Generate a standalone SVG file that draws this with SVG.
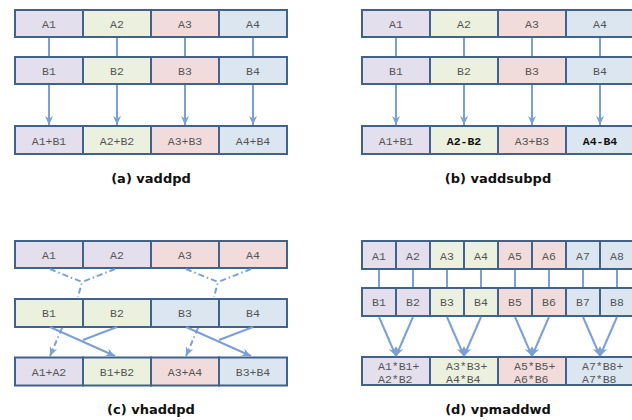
<svg xmlns="http://www.w3.org/2000/svg" width="632" height="420" viewBox="0 0 632 420">
<style>
.cell{stroke:#41628a;stroke-width:2}
.c1{fill:#e4dfec}.c2{fill:#ebf1de}.c3{fill:#f2dcdb}.c4{fill:#dce6f1}
.t{font-family:"Liberation Mono","Courier New",monospace;font-size:11.5px;fill:#555;text-anchor:middle}
.tb{font-weight:bold;fill:#111}
.tl{text-anchor:start}
.cap{font-family:"DejaVu Sans",sans-serif;font-weight:bold;font-size:13px;fill:#111;text-anchor:middle}
.ln{stroke:#7aa0d4;stroke-width:2;fill:none}
.dd{stroke-dasharray:6 3 1.5 3}
.ar{marker-end:url(#ah)}
</style>
<defs>
<marker id="ah" viewBox="0 0 10 10" refX="10" refY="5" markerWidth="9" markerHeight="9" markerUnits="userSpaceOnUse" orient="auto">
<path d="M0,0.5 L10,5 L0,9.5 L3,5 z" fill="#7aa0d4"/>
</marker>
</defs>
<rect width="632" height="420" fill="#fff"/>

<!-- Panel a -->
<g id="a-A1"><rect class="cell c1" x="15" y="10" width="68" height="27"/><text class="t" x="49" y="27.5">A1</text></g>
<g id="a-A2"><rect class="cell c2" x="83" y="10" width="68" height="27"/><text class="t" x="117" y="27.5">A2</text></g>
<g id="a-A3"><rect class="cell c3" x="151" y="10" width="68" height="27"/><text class="t" x="185" y="27.5">A3</text></g>
<g id="a-A4"><rect class="cell c4" x="219" y="10" width="68" height="27"/><text class="t" x="253" y="27.5">A4</text></g>
<g id="a-B1"><rect class="cell c1" x="15" y="57" width="68" height="27"/><text class="t" x="49" y="75">B1</text></g>
<g id="a-B2"><rect class="cell c2" x="83" y="57" width="68" height="27"/><text class="t" x="117" y="75">B2</text></g>
<g id="a-B3"><rect class="cell c3" x="151" y="57" width="68" height="27"/><text class="t" x="185" y="75">B3</text></g>
<g id="a-B4"><rect class="cell c4" x="219" y="57" width="68" height="27"/><text class="t" x="253" y="75">B4</text></g>
<g id="a-R1"><rect class="cell c1" x="15" y="126" width="68" height="28"/><text class="t" x="49" y="145">A1+B1</text></g>
<g id="a-R2"><rect class="cell c2" x="83" y="126" width="68" height="28"/><text class="t" x="117" y="145">A2+B2</text></g>
<g id="a-R3"><rect class="cell c3" x="151" y="126" width="68" height="28"/><text class="t" x="185" y="145">A3+B3</text></g>
<g id="a-R4"><rect class="cell c4" x="219" y="126" width="68" height="28"/><text class="t" x="253" y="145">A4+B4</text></g>
<text class="cap" x="151" y="183">(a) vaddpd</text>

<!-- Panel b -->
<g id="b-A1"><rect class="cell c1" x="362" y="10" width="68" height="27"/><text class="t" x="396" y="27.5">A1</text></g>
<g id="b-A2"><rect class="cell c2" x="430" y="10" width="68" height="27"/><text class="t" x="464" y="27.5">A2</text></g>
<g id="b-A3"><rect class="cell c3" x="498" y="10" width="68" height="27"/><text class="t" x="532" y="27.5">A3</text></g>
<g id="b-A4"><rect class="cell c4" x="566" y="10" width="68" height="27"/><text class="t" x="600" y="27.5">A4</text></g>
<g id="b-B1"><rect class="cell c1" x="362" y="57" width="68" height="27"/><text class="t" x="396" y="75">B1</text></g>
<g id="b-B2"><rect class="cell c2" x="430" y="57" width="68" height="27"/><text class="t" x="464" y="75">B2</text></g>
<g id="b-B3"><rect class="cell c3" x="498" y="57" width="68" height="27"/><text class="t" x="532" y="75">B3</text></g>
<g id="b-B4"><rect class="cell c4" x="566" y="57" width="68" height="27"/><text class="t" x="600" y="75">B4</text></g>
<g id="b-R1"><rect class="cell c1" x="362" y="126" width="68" height="28"/><text class="t" x="396" y="145">A1+B1</text></g>
<g id="b-R2"><rect class="cell c2" x="430" y="126" width="68" height="28"/><text class="t tb" x="464" y="145">A2-B2</text></g>
<g id="b-R3"><rect class="cell c3" x="498" y="126" width="68" height="28"/><text class="t" x="532" y="145">A3+B3</text></g>
<g id="b-R4"><rect class="cell c4" x="566" y="126" width="68" height="28"/><text class="t tb" x="600" y="145">A4-B4</text></g>
<text class="cap" x="498" y="183">(b) vaddsubpd</text>

<!-- Panel c -->
<g id="c-A1"><rect class="cell c1" x="15" y="241" width="68" height="27"/><text class="t" x="49" y="259">A1</text></g>
<g id="c-A2"><rect class="cell c1" x="83" y="241" width="68" height="27"/><text class="t" x="117" y="259">A2</text></g>
<g id="c-A3"><rect class="cell c3" x="151" y="241" width="68" height="27"/><text class="t" x="185" y="259">A3</text></g>
<g id="c-A4"><rect class="cell c3" x="219" y="241" width="68" height="27"/><text class="t" x="253" y="259">A4</text></g>
<g id="c-B1"><rect class="cell c2" x="15" y="299" width="68" height="28"/><text class="t" x="49" y="317">B1</text></g>
<g id="c-B2"><rect class="cell c2" x="83" y="299" width="68" height="28"/><text class="t" x="117" y="317">B2</text></g>
<g id="c-B3"><rect class="cell c4" x="151" y="299" width="68" height="28"/><text class="t" x="185" y="317">B3</text></g>
<g id="c-B4"><rect class="cell c4" x="219" y="299" width="68" height="28"/><text class="t" x="253" y="317">B4</text></g>
<g id="c-R1"><rect class="cell c1" x="15" y="357.5" width="68" height="28"/><text class="t" x="49" y="376">A1+A2</text></g>
<g id="c-R2"><rect class="cell c2" x="83" y="357.5" width="68" height="28"/><text class="t" x="117" y="376">B1+B2</text></g>
<g id="c-R3"><rect class="cell c3" x="151" y="357.5" width="68" height="28"/><text class="t" x="185" y="376">A3+A4</text></g>
<g id="c-R4"><rect class="cell c4" x="219" y="357.5" width="68" height="28"/><text class="t" x="253" y="376">B3+B4</text></g>
<text class="cap" x="151" y="414">(c) vhaddpd</text>

<!-- Panel d -->
<g id="d-A1"><rect class="cell c1" x="362" y="241" width="34" height="28"/><text class="t" x="379" y="259.5">A1</text></g>
<g id="d-A2"><rect class="cell c1" x="396" y="241" width="34" height="28"/><text class="t" x="413" y="259.5">A2</text></g>
<g id="d-A3"><rect class="cell c2" x="430" y="241" width="34" height="28"/><text class="t" x="447" y="259.5">A3</text></g>
<g id="d-A4"><rect class="cell c2" x="464" y="241" width="34" height="28"/><text class="t" x="481" y="259.5">A4</text></g>
<g id="d-A5"><rect class="cell c3" x="498" y="241" width="34" height="28"/><text class="t" x="515" y="259.5">A5</text></g>
<g id="d-A6"><rect class="cell c3" x="532" y="241" width="34" height="28"/><text class="t" x="549" y="259.5">A6</text></g>
<g id="d-A7"><rect class="cell c4" x="566" y="241" width="34" height="28"/><text class="t" x="583" y="259.5">A7</text></g>
<g id="d-A8"><rect class="cell c4" x="600" y="241" width="34" height="28"/><text class="t" x="617" y="259.5">A8</text></g>
<g id="d-B1"><rect class="cell c1" x="362" y="288" width="34" height="28"/><text class="t" x="379" y="306">B1</text></g>
<g id="d-B2"><rect class="cell c1" x="396" y="288" width="34" height="28"/><text class="t" x="413" y="306">B2</text></g>
<g id="d-B3"><rect class="cell c2" x="430" y="288" width="34" height="28"/><text class="t" x="447" y="306">B3</text></g>
<g id="d-B4"><rect class="cell c2" x="464" y="288" width="34" height="28"/><text class="t" x="481" y="306">B4</text></g>
<g id="d-B5"><rect class="cell c3" x="498" y="288" width="34" height="28"/><text class="t" x="515" y="306">B5</text></g>
<g id="d-B6"><rect class="cell c3" x="532" y="288" width="34" height="28"/><text class="t" x="549" y="306">B6</text></g>
<g id="d-B7"><rect class="cell c4" x="566" y="288" width="34" height="28"/><text class="t" x="583" y="306">B7</text></g>
<g id="d-B8"><rect class="cell c4" x="600" y="288" width="34" height="28"/><text class="t" x="617" y="306">B8</text></g>
<g id="d-R1"><rect class="cell c1" x="362" y="357" width="68" height="28"/><text class="t tl" x="378" y="369.5">A1*B1+</text><text class="t tl" x="378" y="383">A2*B2</text></g>
<g id="d-R2"><rect class="cell c2" x="430" y="357" width="68" height="28"/><text class="t tl" x="446" y="369.5">A3*B3+</text><text class="t tl" x="446" y="383">A4*B4</text></g>
<g id="d-R3"><rect class="cell c3" x="498" y="357" width="68" height="28"/><text class="t tl" x="514" y="369.5">A5*B5+</text><text class="t tl" x="514" y="383">A6*B6</text></g>
<g id="d-R4"><rect class="cell c4" x="566" y="357" width="68" height="28"/><text class="t tl" x="582" y="369.5">A7*B8+</text><text class="t tl" x="582" y="383">A7*B8</text></g>
<text class="cap" x="498" y="414">(d) vpmaddwd</text>

<g id="connectors">
<!-- a -->
<path class="ln" d="M49,38V56M117,38V56M185,38V56M253,38V56"/>
<path class="ln ar" d="M49,85V125"/><path class="ln ar" d="M117,85V125"/><path class="ln ar" d="M185,85V125"/><path class="ln ar" d="M253,85V125"/>
<!-- b -->
<path class="ln" d="M396,38V56M464,38V56M532,38V56M600,38V56"/>
<path class="ln ar" d="M396,85V125"/><path class="ln ar" d="M464,85V125"/><path class="ln ar" d="M532,85V125"/><path class="ln ar" d="M600,85V125"/>
<!-- c -->
<path class="ln dd" d="M50,269L82,282L78,297M115,269L82,282"/>
<path class="ln dd" d="M186,269L218,282L214,297M251,269L218,282"/>
<path class="ln ar" d="M50,327L115,356"/><path class="ln" d="M117,327L83,340"/>
<path class="ln dd ar" d="M62,328L50,356"/>
<path class="ln ar" d="M186,327L251,356"/><path class="ln" d="M253,327L219,340"/>
<path class="ln dd ar" d="M198,328L186,356"/>
<!-- d -->
<path class="ln" d="M379,270V287M413,270V287M447,270V287M481,270V287M515,270V287M549,270V287M583,270V287M617,270V287"/>
<path class="ln ar" d="M379,317L396,356"/><path class="ln ar" d="M413,317L396,356"/>
<path class="ln ar" d="M447,317L464,356"/><path class="ln ar" d="M481,317L464,356"/>
<path class="ln ar" d="M515,317L532,356"/><path class="ln ar" d="M549,317L532,356"/>
<path class="ln ar" d="M583,317L600,356"/><path class="ln ar" d="M617,317L600,356"/>
</g>
</svg>
